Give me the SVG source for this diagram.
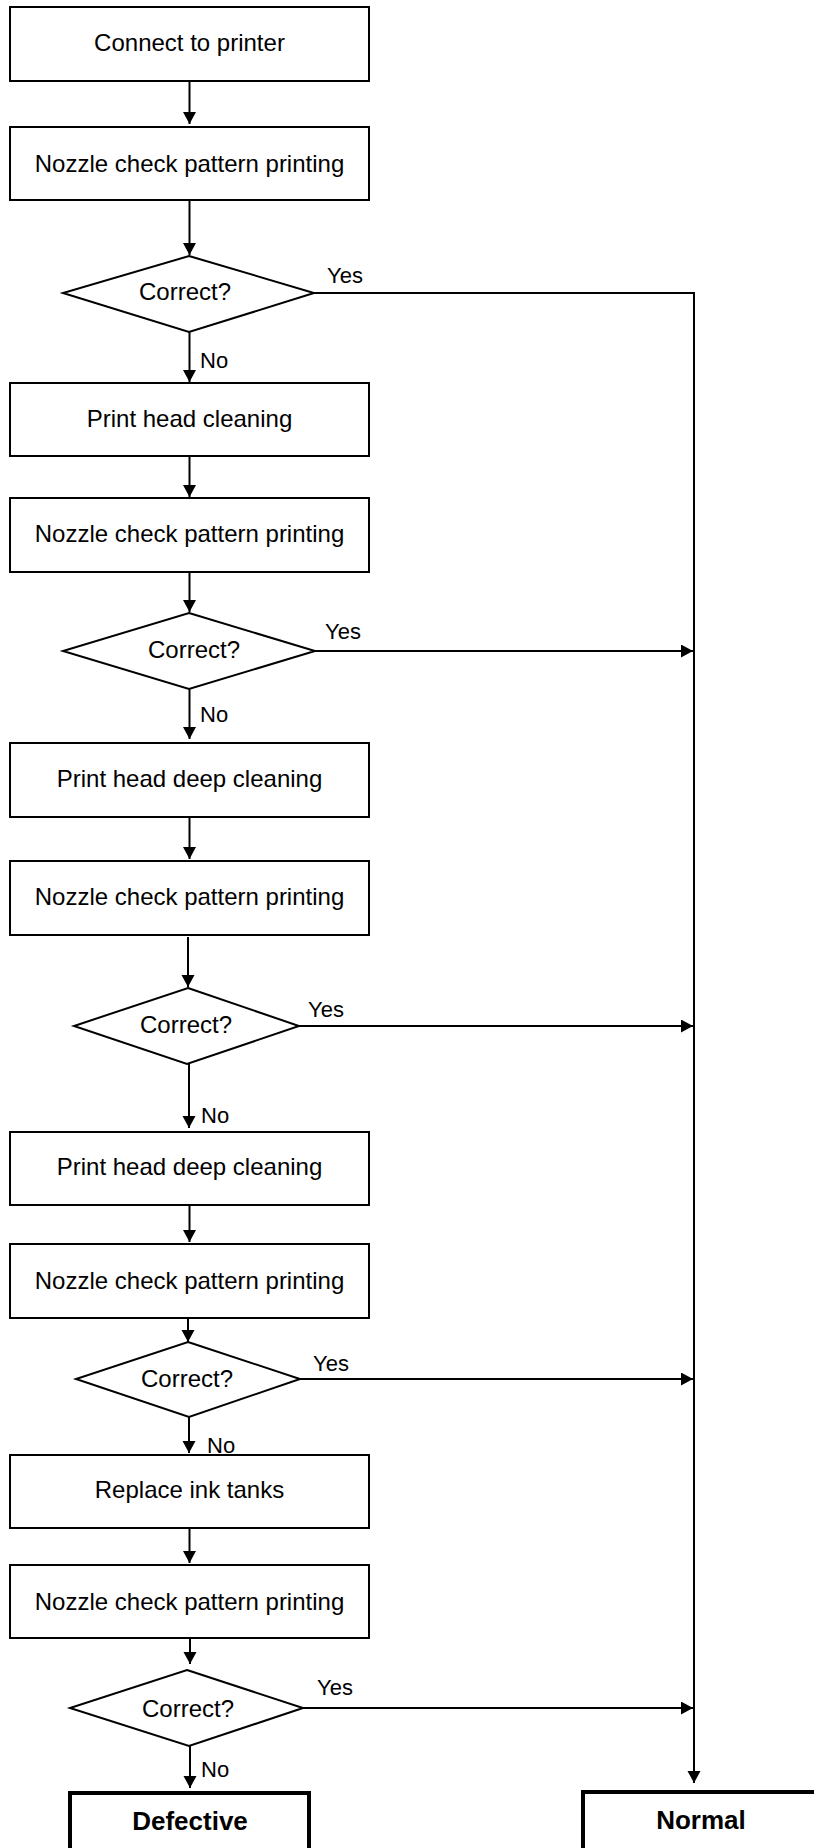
<svg xmlns="http://www.w3.org/2000/svg" width="814" height="1848" viewBox="0 0 814 1848">
<style>
.box{fill:#fff;stroke:#000;stroke-width:2}
.term{fill:#fff;stroke:#000;stroke-width:4}
.dia{fill:#fff;stroke:#000;stroke-width:2}
.t{font-family:"Liberation Sans",Arial,sans-serif;font-size:24px;fill:#000;text-anchor:middle}
.tb{font-family:"Liberation Sans",Arial,sans-serif;font-size:26px;font-weight:bold;fill:#000;text-anchor:middle}
.lb{font-family:"Liberation Sans",Arial,sans-serif;font-size:22px;fill:#000}
.c{fill:none;stroke:#000;stroke-width:2}
.ca{fill:none;stroke:#000;stroke-width:2;marker-end:url(#ah)}
</style>
<defs>
<marker id="ah" markerUnits="userSpaceOnUse" markerWidth="14" markerHeight="14" refX="12" refY="6.5" orient="auto">
<path d="M0,0 L12,6.5 L0,13 Z" fill="#000"/>
</marker>
</defs>
<rect width="814" height="1848" fill="#fff"/>
<g id="connectors">
<line class="ca" x1="189.5" y1="81" x2="189.5" y2="124"/>
<line class="ca" x1="189.5" y1="200" x2="189.5" y2="255"/>
<line class="ca" x1="189.5" y1="332" x2="189.5" y2="382"/>
<line class="ca" x1="189.5" y1="456" x2="189.5" y2="497"/>
<line class="ca" x1="189.5" y1="572" x2="189.5" y2="612"/>
<line class="ca" x1="189.5" y1="689" x2="189.5" y2="739"/>
<line class="ca" x1="189.5" y1="817" x2="189.5" y2="859"/>
<line class="ca" x1="188" y1="937" x2="188" y2="987"/>
<line class="ca" x1="189" y1="1064" x2="189" y2="1128"/>
<line class="ca" x1="189.5" y1="1205" x2="189.5" y2="1242"/>
<line class="ca" x1="188" y1="1318" x2="188" y2="1342"/>
<line class="ca" x1="189" y1="1417" x2="189" y2="1453"/>
<line class="ca" x1="189.5" y1="1528" x2="189.5" y2="1563"/>
<line class="ca" x1="190" y1="1638" x2="190" y2="1664"/>
<line class="ca" x1="190" y1="1746" x2="190" y2="1788"/>
<polyline class="c" points="314,293 694,293 694,1783"/>
<line class="ca" x1="694" y1="1770" x2="694" y2="1783"/>
<line class="ca" x1="315" y1="651" x2="693" y2="651"/>
<line class="ca" x1="299" y1="1026" x2="693" y2="1026"/>
<line class="ca" x1="300" y1="1379" x2="693" y2="1379"/>
<line class="ca" x1="303" y1="1708" x2="693" y2="1708"/>
<text class="lb" x="327" y="283">Yes</text>
<text class="lb" x="325" y="639">Yes</text>
<text class="lb" x="308" y="1017">Yes</text>
<text class="lb" x="313" y="1371">Yes</text>
<text class="lb" x="317" y="1695">Yes</text>
<text class="lb" x="200" y="368">No</text>
<text class="lb" x="200" y="722">No</text>
<text class="lb" x="201" y="1123">No</text>
<text class="lb" x="207" y="1453">No</text>
<text class="lb" x="201" y="1777">No</text>
</g>
<g id="n1"><rect class="box" x="10" y="7" width="359" height="74"/><text class="t" x="189.5" y="51">Connect to printer</text></g>
<g id="n2"><rect class="box" x="10" y="127" width="359" height="73"/><text class="t" x="189.5" y="172">Nozzle check pattern printing</text></g>
<g id="d1"><polygon class="dia" points="189,256 314,293 189,332 63,293"/><text class="t" x="185" y="300">Correct?</text></g>
<g id="n3"><rect class="box" x="10" y="383" width="359" height="73"/><text class="t" x="189.5" y="427">Print head cleaning</text></g>
<g id="n4"><rect class="box" x="10" y="498" width="359" height="74"/><text class="t" x="189.5" y="542">Nozzle check pattern printing</text></g>
<g id="d2"><polygon class="dia" points="189,613 315,651 189,689 63,651"/><text class="t" x="194" y="658">Correct?</text></g>
<g id="n5"><rect class="box" x="10" y="743" width="359" height="74"/><text class="t" x="189.5" y="787">Print head deep cleaning</text></g>
<g id="n6"><rect class="box" x="10" y="861" width="359" height="74"/><text class="t" x="189.5" y="905">Nozzle check pattern printing</text></g>
<g id="d3"><polygon class="dia" points="188,988 299,1026 187,1064 74,1026"/><text class="t" x="186" y="1033">Correct?</text></g>
<g id="n7"><rect class="box" x="10" y="1132" width="359" height="73"/><text class="t" x="189.5" y="1175">Print head deep cleaning</text></g>
<g id="n8"><rect class="box" x="10" y="1244" width="359" height="74"/><text class="t" x="189.5" y="1289">Nozzle check pattern printing</text></g>
<g id="d4"><polygon class="dia" points="188,1342 300,1379 189,1417 76,1379"/><text class="t" x="187" y="1387">Correct?</text></g>
<g id="n9"><rect class="box" x="10" y="1455" width="359" height="73"/><text class="t" x="189.5" y="1498">Replace ink tanks</text></g>
<g id="n10"><rect class="box" x="10" y="1565" width="359" height="73"/><text class="t" x="189.5" y="1610">Nozzle check pattern printing</text></g>
<g id="d5"><polygon class="dia" points="187,1670 303,1708 189,1746 70,1708"/><text class="t" x="188" y="1717">Correct?</text></g>
<g id="defective"><rect class="term" x="70" y="1793" width="239" height="80"/><text class="tb" x="190" y="1830">Defective</text></g>
<g id="normal"><rect class="term" x="583" y="1792" width="300" height="80"/><text class="tb" x="701" y="1829">Normal</text></g>
</svg>
